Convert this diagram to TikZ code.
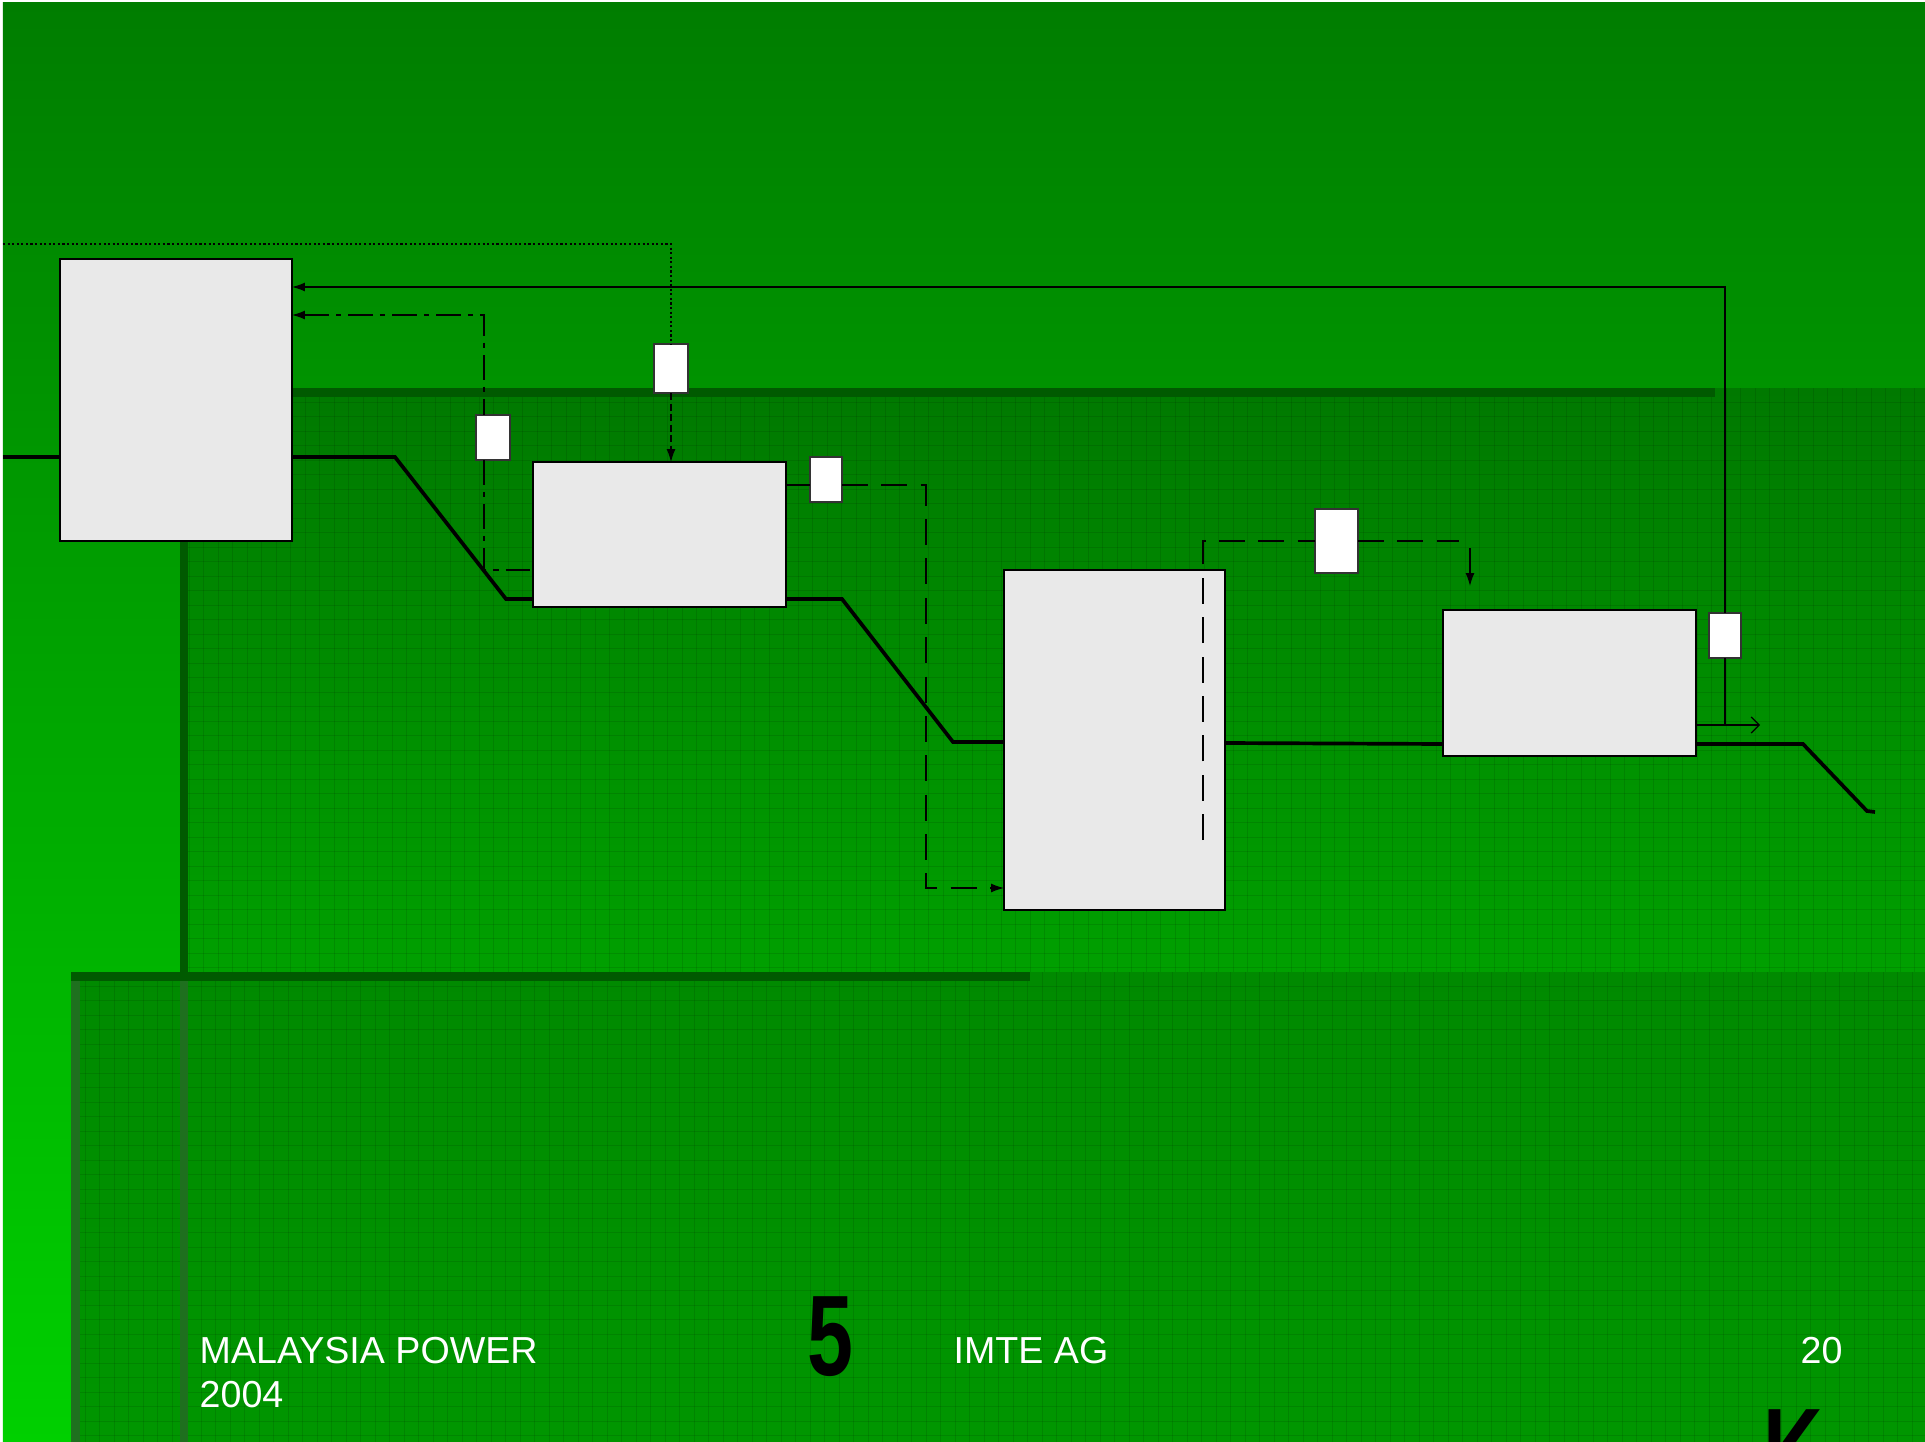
\documentclass[tikz,border=0pt]{standalone}
\usepackage{fontspec}
\setmainfont{Liberation Sans}
\usepackage{xcolor}
\usepackage{tikz}
\usetikzlibrary{calc, arrows.meta, positioning}

\definecolor{nentren}{RGB}{0,125,0}
\definecolor{nenduoi}{RGB}{0,208,0}
\definecolor{khungtren}{RGB}{0,121,0}
\definecolor{khungduoi}{RGB}{0,160,0}
\definecolor{khung2tren}{RGB}{0,138,0}
\definecolor{khung2duoi}{RGB}{0,150,0}
\definecolor{thanhtoi}{RGB}{0,90,0}
\definecolor{thanhsang}{RGB}{30,112,30}
\definecolor{xamkhoi}{RGB}{233,233,233}

\begin{document}
\begin{tikzpicture}[x=0.1mm, y=-0.1mm, >={Latex[length=1.3mm,width=0.9mm]},
    khoi/.style={draw=black, line width=0.45pt, fill=xamkhoi, inner sep=0pt, outer sep=0pt},
    the/.style={draw=black!80, line width=0.35pt, fill=white, inner sep=0pt, outer sep=0pt},
    duongchinh/.style={line width=1.05pt},
    mong/.style={line width=0.35pt},
    chamcham/.style={mong, dash pattern=on 0.6pt off 0.7pt},
    gachnho/.style={mong, dash pattern=on 2pt off 1pt},
    gachcham/.style={mong, dash pattern=on 7pt off 2pt on 1.5pt off 2pt},
    gachdai/.style={mong, dash pattern=on 7.4pt off 3.8pt},
    luoi/.style={black, opacity=0.1, line width=0.25pt},
    chutrang/.style={text=white, inner sep=0pt, anchor=base west, font=\fontsize{10.7}{12.5}\selectfont},
    chuden/.style={inner sep=0pt, anchor=base west, xscale=0.72, font=\fontsize{32.6}{33}\selectfont\bfseries}]
    \useasboundingbox (0,0) rectangle (1925,1442);
    \clip (0,0) rectangle (1925,1442);

    % Vẽ nền
    \fill[white] (0,0) rectangle (1925,1442);
    \shade[top color=nentren, bottom color=nenduoi] (3,3) rectangle (1925,1442);
    \shade[top color=khungtren, bottom color=khungduoi] (182,388) rectangle (1925,972);
    \shade[top color=khung2tren, bottom color=khung2duoi] (71,972) rectangle (1925,1442);
    \foreach \gx in {189,203.5,...,1925} \draw[luoi] (\gx,388) -- (\gx,972);
    \foreach \gy in {402,416.5,...,972} \draw[luoi] (182,\gy) -- (1925,\gy);
    \foreach \gx in {85,99.5,...,1925} \draw[luoi] (\gx,972) -- (\gx,1442);
    \foreach \gy in {986,1000.5,...,1442} \draw[luoi] (71,\gy) -- (1925,\gy);
    \fill[thanhtoi] (182,388) rectangle (1715,397);
    \fill[thanhtoi] (180,388) rectangle (188,972);
    \fill[thanhsang] (180,981) rectangle (188,1442);
    \fill[thanhtoi] (71,972) rectangle (1030,981);
    \fill[thanhsang] (71,981) rectangle (80,1442);

    % Các khối thiết bị
    \node[khoi, minimum width=23.2mm, minimum height=28.2mm] (A) at (176,400) {};
    \node[khoi, minimum width=25.3mm, minimum height=14.5mm] (B) at (659.5,534.5) {};
    \node[khoi, minimum width=22.1mm, minimum height=34mm] (C) at (1114.5,740) {};
    \node[khoi, minimum width=25.3mm, minimum height=14.6mm] (D) at (1569.5,683) {};

    % Các ô nhỏ
    \node[the, minimum width=3.4mm, minimum height=4.5mm] (s1) at (493,437.5) {};
    \node[the, minimum width=3.4mm, minimum height=4.9mm] (s2) at (671,368.5) {};
    \node[the, minimum width=3.2mm, minimum height=4.5mm] (s3) at (826,479.5) {};
    \node[the, minimum width=4.3mm, minimum height=6.4mm] (s4) at (1336.5,541) {};
    \node[the, minimum width=3.2mm, minimum height=4.5mm] (s5) at (1725,635.5) {};

    \coordinate (vao) at (3,457);
    \coordinate (ra) at (1875,812);
    \coordinate (dau) at (3,244);
    \coordinate (ra2) at (1760,725);
    \coordinate (gach1) at (1203,840);
    \coordinate (gach2) at (1459,541);
    \coordinate (mui1) at (1470,548);
    \coordinate (mui2) at (1470,586);

    % Đường công nghệ chính
    \draw[duongchinh] (vao) -- (A.west |- vao);
    \draw[duongchinh] (A.east |- vao) -- (395,457) -- (506,599) -- (B.west |- 0,599);
    \draw[duongchinh] (B.east |- 0,599) -- (842,599) -- (953,742) -- (C.west |- 0,742);
    \draw[duongchinh] (C.east |- 0,743) -- (D.west |- 0,744);
    \draw[duongchinh] (D.east |- 0,744) -- (1803,744) -- (1867,811) -- (ra);

    % Các đường điều khiển
    \draw[chamcham] (dau) -- (dau -| s2) -- (s2.north);
    \draw[gachnho, ->] (s2.south) -- (B.north -| s2);
    \draw[mong, ->] (s5.north) -- (s5.north |- 0,287) -- (A.east |- 0,287);
    \draw[mong] (s5.south) -- (s5.south |- ra2);
    \draw[mong, -{Straight Barb[length=0.8mm]}] (D.east |- ra2) -- (ra2);
    \draw[gachcham, <-] (A.east |- 0,315) -- (484,315) -- (s1.north -| 484,0);
    \draw[gachcham] (s1.south -| 484,0) -- (484,570) -- (B.west |- 0,570);
    \draw[mong] (B.east |- 0,485) -- (s3.west |- 0,485);
    \draw[gachdai, ->] (s3.east |- 0,485) -- (926,485) -- (926,888) -- (C.west |- 0,888);
    \draw[gachdai] (gach1) -- (gach1 |- s4) -- (s4.west);
    \draw[gachdai] (s4.east) -- (gach2);
    \draw[mong, ->] (mui1) -- (mui2);

    % Chân trang
    \node[chutrang] (nguon1) at (199,1363) {MALAYSIA POWER};
    \node[chutrang] (nguon2) at (199,1407) {2004};
    \node[chutrang] (congty) at (953,1363) {IMTE AG};
    \node[chutrang] (trang) at (1800,1363) {20};
    \node[chuden] (so) at (807,1375) {5};
    \node[chuden] (chuK) at (1763,1488) {K};
\end{tikzpicture}
\end{document}
